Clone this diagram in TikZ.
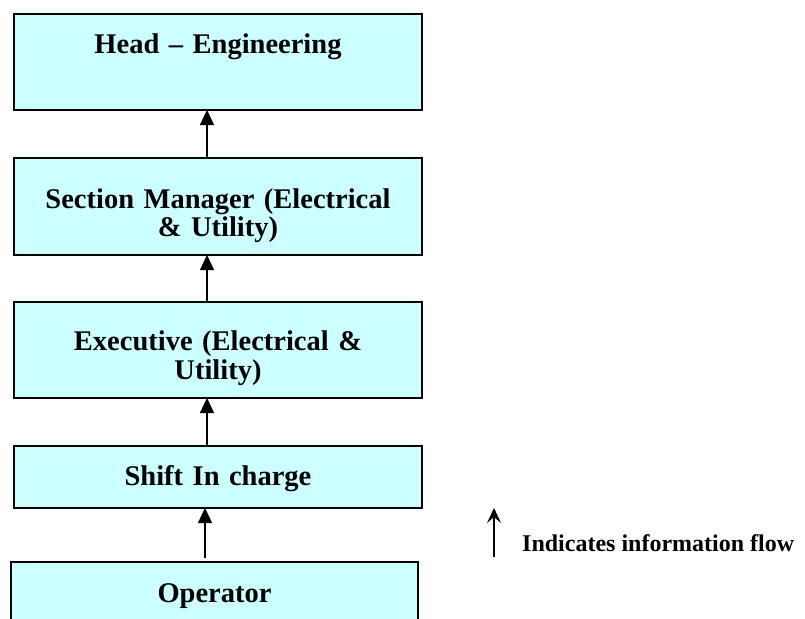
\documentclass[tikz,border=0pt]{standalone}
\usepackage{fontspec}
\setmainfont{Liberation Serif}
\usetikzlibrary{arrows.meta}
\definecolor{boxfill}{RGB}{204,255,255}
\begin{document}
\begin{tikzpicture}[x=1pt,y=-1pt,
  box/.style={draw=black, line width=1.3pt, fill=boxfill, inner xsep=0pt, inner ysep=0pt,
    outer sep=0pt, text width=408pt, align=center, anchor=north,
    font=\fontsize{28.5}{28.6}\selectfont\bfseries},
  flow/.style={line width=1.3pt, -{Triangle[length=15pt,width=14pt]}},
  legarrow/.style={line width=1.3pt, -{Stealth[length=15pt,width=14pt,inset=6pt]}},
  legtext/.style={inner sep=0pt, anchor=base west, font=\fontsize{24}{25}\selectfont\bfseries}]
\useasboundingbox (0,0) rectangle (805,618);
\fill[white] (0,0) rectangle (805,618);
\node[box, text height=40pt, text depth=56pt] (head) at (218,14) {Head -- Engineering};
\node[box, text height=50pt, text depth=47pt] (sec) at (218,158) {Section Manager (Electrical\\ \& Utility)};
\node[box, text height=48.7pt, text depth=47.3pt] (exec) at (218,302) {Executive (Electrical \&\\ Utility)};
\node[box, text height=39pt, text depth=23pt] (shift) at (218,446) {Shift In charge};
\node[box, text width=407pt, text height=40pt, text depth=40pt] (op) at (214.5,562) {Operator};
\draw[flow] ([xshift=-11pt]sec.north) -- ([xshift=-11pt]head.south);
\draw[flow] ([xshift=-11pt]exec.north) -- ([xshift=-11pt]sec.south);
\draw[flow] ([xshift=-11pt]shift.north) -- ([xshift=-11pt]exec.south);
\draw[flow, shorten <=4pt] ([xshift=-9.5pt]op.north) -- ([xshift=-13pt]shift.south);
\coordinate (lb) at (494,557);
\coordinate (lt) at (494,508);
\draw[legarrow] (lb) -- (lt);
\node[legtext] (leg) at (522,551.7) {Indicates information flow};
\end{tikzpicture}
\end{document}
